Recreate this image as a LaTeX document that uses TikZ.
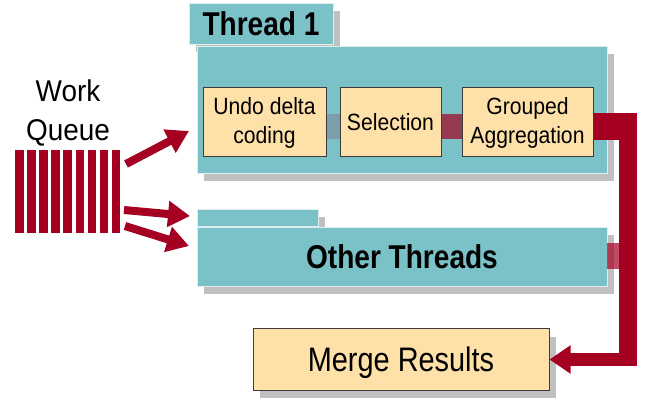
\documentclass[tikz,border=0pt]{standalone}
\usepackage{fontspec}
\setmainfont{Liberation Sans}
\newfontfamily\bigfont[FakeStretch=0.85]{Liberation Sans}
\newfontfamily\smallfont[FakeStretch=0.9]{Liberation Sans}
\newfontfamily\queuefont[FakeStretch=0.93]{Liberation Sans}
\usetikzlibrary{arrows.meta,shadows}
\definecolor{teal1}{RGB}{123,194,200}
\definecolor{tealedge}{RGB}{220,238,240}
\definecolor{tan1}{RGB}{254,224,169}
\definecolor{tanedge}{RGB}{60,60,60}
\definecolor{darkred}{RGB}{165,0,33}
\definecolor{shadowgray}{RGB}{192,192,192}
\definecolor{connblue}{RGB}{125,158,168}
\begin{document}
\begin{tikzpicture}[x=1pt,y=-1pt,
  shad/.style={drop shadow={shadow xshift=7pt,shadow yshift=-8pt,fill=shadowgray,opacity=1}},
  tealbox/.style={shad, rectangle, fill=teal1, draw=tealedge, line width=0.8pt, inner sep=0pt},
  tanbox/.style={rectangle, fill=tan1, draw=tanedge, line width=1pt, inner sep=0pt},
  bigtext/.style={font=\bigfont\fontsize{34}{38}\selectfont},
  bigbold/.style={font=\bigfont\bfseries\fontsize{33}{38}\selectfont},
  smalltext/.style={font=\smallfont\fontsize{23.5}{29}\selectfont, align=center},
  queuetext/.style={font=\queuefont\fontsize{30}{39}\selectfont, align=center, inner sep=0pt},
  bar/.style={fill=darkred},
  arr/.style={draw=darkred, line width=8pt, -{Triangle[width=25pt,length=22pt]}},
  redconn/.style={draw=darkred, line width=#1},
  transconn/.style={draw=darkred, draw opacity=0.7, line width=#1},
]
\useasboundingbox (0,0) rectangle (649,401);

% work queue
\node[queuetext] (wq) at (68,113) {Work\\Queue};
\node[minimum width=106pt, minimum height=83pt, inner sep=0pt] (queue) at (68,191.5) {};
\foreach \i in {0,...,8}{
  \fill[bar] (15+12.1*\i,150) rectangle (23.6+12.1*\i,233);
}

% thread 1
\node[tealbox, minimum width=144pt, minimum height=41pt, bigbold] (tab1) at (261,23.5) {Thread 1};
\node[tealbox, minimum width=410pt, minimum height=127pt] (thread) at (402,109.5) {};
\node[tanbox, minimum width=123pt, minimum height=69pt, smalltext] (undo) at (264.5,122.5) {Undo delta\\coding};
\node[tanbox, minimum width=101pt, minimum height=69pt, smalltext] (sel) at (390.5,122.5) {Selection};
\node[tanbox, minimum width=131pt, minimum height=69pt, smalltext] (grp) at (527.5,122.5) {Grouped\\Aggregation};

\draw[draw=connblue, line width=25pt] ([yshift=-4pt]undo.east) -- ([yshift=-4pt]sel.west);
\draw[transconn=25pt] ([yshift=-4pt]sel.east) -- ([yshift=-4pt]grp.west);

% other threads
\node[tealbox, minimum width=121pt, minimum height=17pt] (tab2) at (257.5,217.5) {};
\node[tealbox, minimum width=410pt, minimum height=59pt, bigbold] (other) at (402,256.5) {Other Threads};

% merge
\node[tanbox, shad, minimum width=296pt, minimum height=61pt, bigtext, text depth=0pt] (merge) at (401,359.5) {Merge Results};

% queue arrows
\coordinate (s1) at (126,164);
\coordinate (t1) at (189,131);
\coordinate (s2) at (124,210);
\coordinate (t2) at (190,216);
\coordinate (s3) at (125,226);
\coordinate (t3) at (189,246);
\draw[arr] (s1) -- (t1);
\draw[arr] (s2) -- (t2);
\draw[arr] (s3) -- (t3);

% results path
\coordinate (c1) at (637,126.5);
\coordinate (v1) at (628,113);
\coordinate (v2) at (628,366);
\coordinate (c2) at (637,359.5);
\draw[redconn=27pt] ([yshift=-4pt]grp.east) -- (c1);
\draw[redconn=18pt] (v1) -- (v2);
\draw[transconn=26pt] (other.east) -- (other.east -| 619,0);
\draw[draw=darkred, line width=13pt, -{Triangle[width=27pt,length=21pt]}] (c2) -- (merge.east);
\end{tikzpicture}
\end{document}
